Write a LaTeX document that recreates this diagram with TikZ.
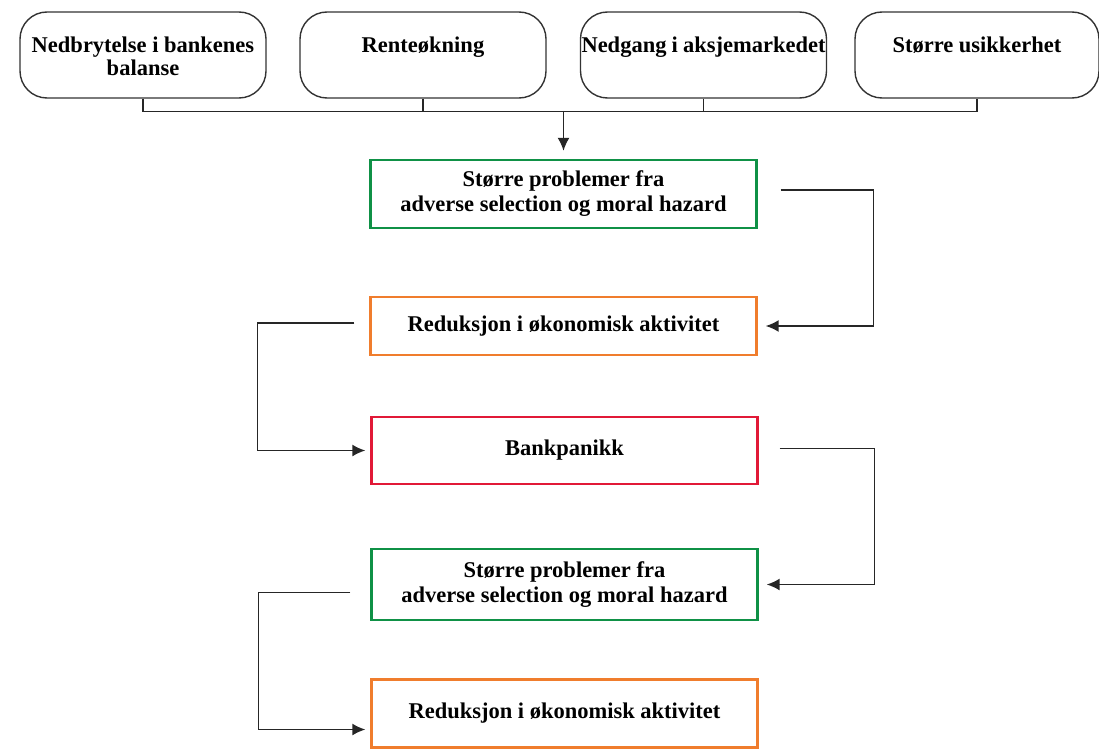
\documentclass[tikz,border=0pt]{standalone}
\usepackage{fontspec}
\setmainfont{Liberation Serif}
\usetikzlibrary{arrows.meta}
\definecolor{boxgreen}{RGB}{15,145,70}
\definecolor{boxorange}{RGB}{240,125,45}
\definecolor{boxred}{RGB}{225,25,55}
\newcommand{\toptext}[1]{\parbox[c][86pt][t]{244pt}{\centering\vspace*{25pt}#1}}
\begin{document}
\begin{tikzpicture}[x=1pt,y=-1pt,
  cause/.style={draw=black!80,line width=1.4pt,rounded corners=27pt,minimum width=246pt,minimum height=86pt,inner sep=0pt,font=\bfseries\fontsize{22.5}{23}\selectfont},
  effect/.style={draw=#1,line width=2.4pt,minimum width=386pt,inner sep=0pt,font=\bfseries\fontsize{22.5}{25}\selectfont,align=center},
  link/.style={draw=black!85,line width=1.5pt},
  tip/.style={-{Latex[length=13pt,width=12pt]}}]
\useasboundingbox (0,0) rectangle (1099,749);
% causes
\node[cause] (bal) at (143,55) {\toptext{Nedbrytelse i bankenes\\balanse}};
\node[cause] (rente) at (423,55) {\toptext{Renteøkning}};
\node[cause] (aksje) at (703.5,55) {\toptext{Nedgang i aksjemarkedet}};
\node[cause,minimum width=234pt] (usikk) at (977,55) {\toptext{Større usikkerhet}};
% chain
\node[effect=boxgreen,minimum height=68pt] (prob1) at (563.5,194) {Større problemer fra\\adverse selection og moral hazard};
\node[effect=boxorange,minimum height=58pt] (red1) at (563.5,326) {Reduksjon i økonomisk aktivitet};
\node[effect=boxred,minimum height=67pt] (panikk) at (564.5,450.5) {Bankpanikk};
\node[effect=boxgreen,minimum height=71pt] (prob2) at (564.5,584.5) {Større problemer fra\\adverse selection og moral hazard};
\node[effect=boxorange,minimum height=68pt] (red2) at (564.5,713.5) {Reduksjon i økonomisk aktivitet};
% top bar
\draw[link] (bal.south) -- ++(0,13) -| (usikk.south);
\draw[link] (rente.south) -- ++(0,13);
\draw[link] (aksje.south) -- ++(0,13);
\draw[link,tip,shorten >=8pt] (prob1.north |- 0,111) -- (prob1.north);
% loops
\draw[link,tip] ([shift={(23,-4)}]prob1.east) -- ++(93,0) |- ([xshift=8pt]red1.east);
\draw[link,tip] ([shift={(-15,-3)}]red1.west) -- ++(-97,0) |- ([xshift=-5pt]panikk.west);
\draw[link,tip] ([shift={(21,-2)}]panikk.east) -- ++(95,0) |- ([xshift=8pt]prob2.east);
\draw[link,tip] ([shift={(-20,8)}]prob2.west) -- ++(-92,0) |- ([shift={(-5,16)}]red2.west);
\end{tikzpicture}
\end{document}
